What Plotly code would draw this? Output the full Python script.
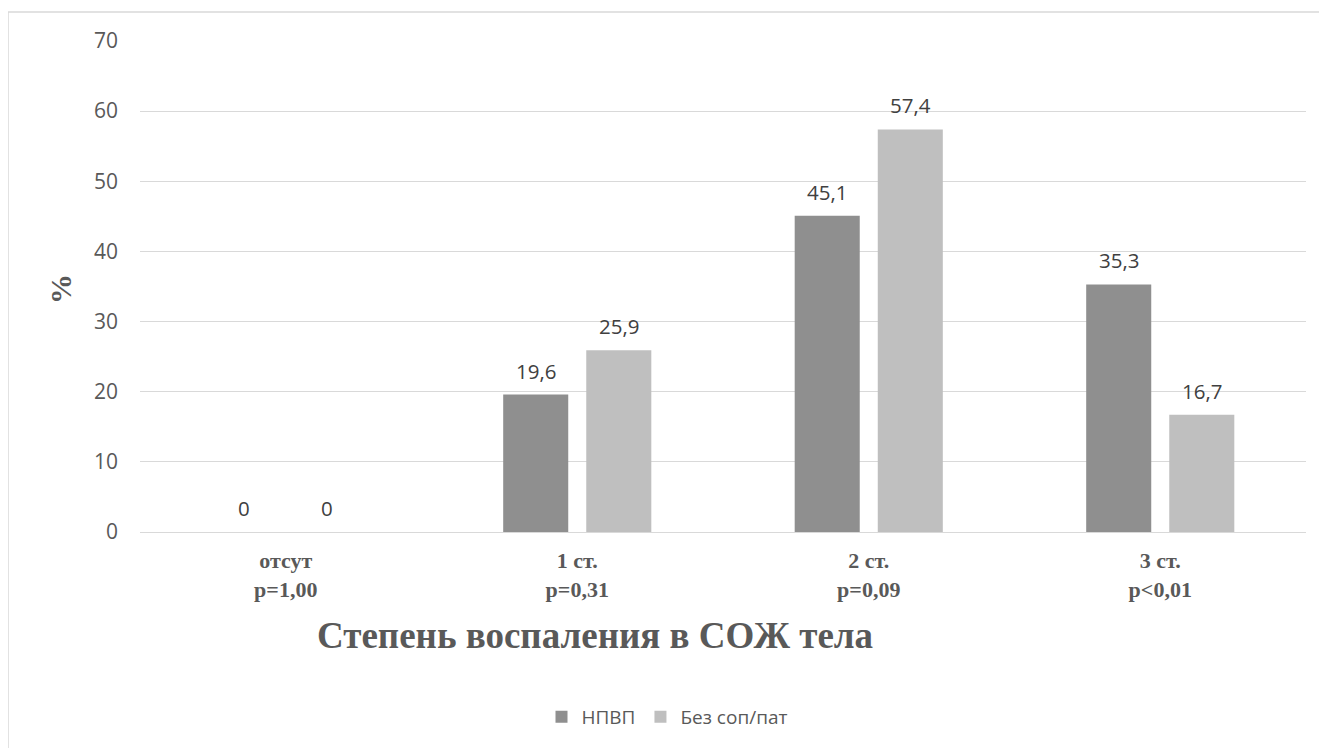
import plotly.graph_objects as go

categories = ["отсут<br>p=1,00", "1 ст.<br>p=0,31", "2 ст.<br>p=0,09", "3 ст.<br>p<0,01"]
series_names = ["НПВП", "Без соп/пат"]
npvp = [0, 19.6, 45.1, 35.3]
bez = [0, 25.9, 57.4, 16.7]
colors = ["#8f8f8f", "#bfbfbf"]
y_ticks = [0, 10, 20, 30, 40, 50, 60, 70]

OFF = 8  # page body margin
W, H = 1327 - 2 * OFF, 756 - 2 * OFF
L, T = 140 - OFF, 41 - OFF
R = W - (1306 - OFF)
B = H - (532 - OFF)
pw, ph = W - L - R, H - T - B

def py(page_y):
    return ((532 - page_y)) / ph

def px(page_x):
    return (page_x - 140) / pw

fig = go.Figure()
for name, vals, col in zip(series_names, [npvp, bez], colors):
    fig.add_trace(go.Bar(x=categories, y=vals, name=name, marker=dict(color=col, line=dict(width=0))))

def fmt(v):
    return (f"{v:.1f}".replace(".", ",") if v % 1 else str(int(v)))

ann = []
for vals, shift in [(npvp, -41.5), (bez, 41.5)]:
    for c, v in zip(categories, vals):
        ann.append(dict(x=c, y=v, xref="x", yref="y", text=fmt(v), showarrow=False,
                        xshift=shift, yshift=24, font=dict(family="Open Sans", size=20.5, color="#404040")))

ann.append(dict(x=px(595), y=py(635), xref="paper", yref="paper", text="<b>Степень воспаления в СОЖ тела</b>",
                showarrow=False, font=dict(family="Liberation Serif", size=37, color="#595959"), yanchor="middle"))
ann.append(dict(x=px(60), y=py(289), xref="paper", yref="paper", text="<b>%</b>", textangle=-90,
                showarrow=False, font=dict(family="Liberation Serif", size=30, color="#595959"),
                xanchor="center", yanchor="middle"))

bx = px(8)
by = py(12)
shapes = [
    dict(type="line", xref="paper", yref="paper", x0=bx, x1=1.2, y0=by, y1=by, line=dict(color="#d9d9d9", width=1.5)),
    dict(type="line", xref="paper", yref="paper", x0=bx, x1=bx, y0=by, y1=-0.6, line=dict(color="#d9d9d9", width=1.5)),
]

fig.update_layout(
    width=W, height=H,
    margin=dict(l=L, r=R, t=T, b=B),
    paper_bgcolor="white", plot_bgcolor="white",
    barmode="group", bargap=0.43, bargroupgap=0.217,
    annotations=ann, shapes=shapes,
    showlegend=True,
    legend=dict(orientation="h", x=px(667), xanchor="center", y=py(717), yanchor="middle",
                font=dict(family="Open Sans", size=19, color="#595959"), itemwidth=30, traceorder="normal"),
    xaxis=dict(showgrid=False, showline=False, ticks="",
               tickfont=dict(family="Liberation Serif", size=22, color="#595959", weight="bold"),
               ticklabelstandoff=13),
    yaxis=dict(range=[0, 70], tickvals=y_ticks, showgrid=True, gridcolor="#d9d9d9", gridwidth=1.3,
               zeroline=True, zerolinecolor="#d9d9d9", zerolinewidth=1.3, showline=False, ticks="",
               tickfont=dict(family="Open Sans", size=21, color="#595959"), ticklabelstandoff=21),
)

fig.write_html("out.html")
